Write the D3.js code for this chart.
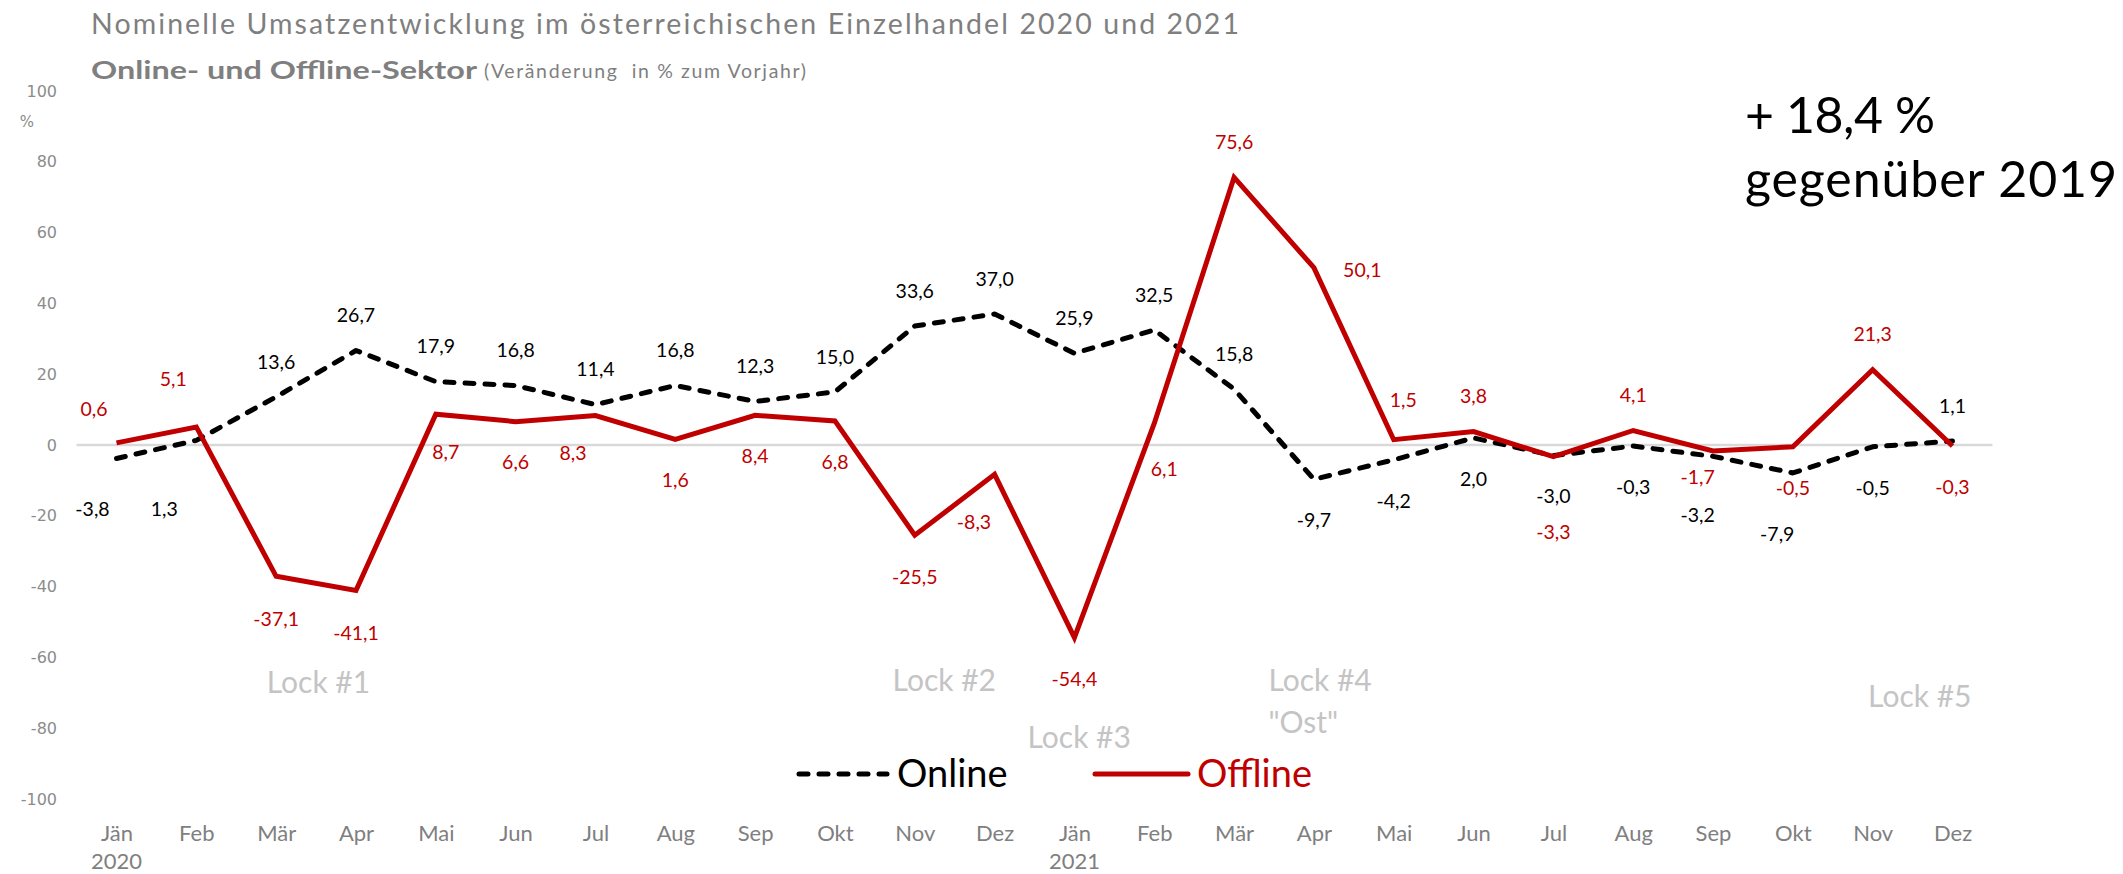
<!DOCTYPE html>
<html><head><meta charset="utf-8">
<script src="https://cdn.jsdelivr.net/npm/d3@7"></script>
<style>body{margin:0;background:#fff}svg{display:block}</style>
</head><body><svg id="chart" width="2123" height="874"></svg>
<script>
// ---------- data ----------
const months = ["Jän","Feb","Mär","Apr","Mai","Jun","Jul","Aug","Sep","Okt","Nov","Dez",
                "Jän","Feb","Mär","Apr","Mai","Jun","Jul","Aug","Sep","Okt","Nov","Dez"];
const yearLabels = [[0, "2020"], [12, "2021"]];
const online  = [-3.8, 1.3, 13.6, 26.7, 17.9, 16.8, 11.4, 16.8, 12.3, 15.0, 33.6, 37.0,
                 25.9, 32.5, 15.8, -9.7, -4.2, 2.0, -3.0, -0.3, -3.2, -7.9, -0.5, 1.1];
const offline = [0.6, 5.1, -37.1, -41.1, 8.7, 6.6, 8.3, 1.6, 8.4, 6.8, -25.5, -8.3,
                 -54.4, 6.1, 75.6, 50.1, 1.5, 3.8, -3.3, 4.1, -1.7, -0.5, 21.3, -0.3];
const yTicks = [100, 80, 60, 40, 20, 0, -20, -40, -60, -80, -100];
const seriesNames = ["Online", "Offline"];

// label placement (layout only): [dx, dy] from the point
const onlineLabelOffsets = [[-24,50.5],[-32,68.6],[0,-35],[0,-35],[0,-35],[0,-35],[0,-35],[0,-35],
  [0,-35],[0,-35],[0,-35],[0,-35],[0,-35],[0,-35],[0,-35],[0,41],[0,41],[0,41],[0,41],[0,41],
  [-15.4,58.7],[-15.6,61],[0,41],[0,-35]];
const offlineLabelOffsets = [[-22.5,-34],[-23,-48],[0,42.5],[0,42.5],[10,37.5],[0,41],[-22.5,37.5],[0,41],
  [0,41],[0,41],[0,41.5],[-20.6,47.3],[0,41.7],[10,46],[0,-35],[48.4,2.4],[9.5,-39.7],[0,-35],
  [0,75],[0,-35],[-15.4,25.7],[0,41],[0,-35],[0,41.5]];

// annotations: text lines, month index, value (baseline), anchor
const lockTexts  = [["Lock #1"], ["Lock #2"], ["Lock #3"], ["Lock #4", "\"Ost\""], ["Lock #5"]];
const lockIndex  = [2.53, 10.37, 12.06, 14.43, 22.59];
const lockValue  = [-70, -69.4, -85.7, -69.4, -73.9];
const lockAnchor = ["middle", "middle", "middle", "start", "middle"];

// ---------- setup ----------
const svg = d3.select("#chart");
const RED = "#c00000", GRAY = "#7f7f7f";
const FONT = "Lato, 'Open Sans', sans-serif";
const de = d3.formatLocale({decimal: ",", thousands: ".", grouping: [3], currency: ["", "€"], minus: "-"});
const fmt = de.format(".1f");

const x = d3.scalePoint().domain(d3.range(months.length)).range([116.5, 1952.5]);
const y = d3.scaleLinear().domain([-100, 100]).range([799, 91]);
const step = x.step();

// titles
svg.append("text").attr("x", 91).attr("y", 34).attr("fill", GRAY)
  .attr("font-family", FONT).attr("font-size", 28.5)
  .attr("textLength", 1148).attr("lengthAdjust", "spacing")
  .text("Nominelle Umsatzentwicklung im österreichischen Einzelhandel 2020 und 2021");
svg.append("text").attr("x", 91).attr("y", 79).attr("fill", GRAY)
  .attr("font-family", FONT).attr("font-size", 25.5).attr("font-weight", "bold")
  .attr("textLength", 386).attr("lengthAdjust", "spacingAndGlyphs")
  .text("Online- und Offline-Sektor");
svg.append("text").attr("x", 484).attr("y", 78).attr("fill", GRAY)
  .attr("font-family", FONT).attr("font-size", 19.5).style("white-space", "pre")
  .attr("textLength", 322).attr("lengthAdjust", "spacing")
  .text("(Veränderung  in % zum Vorjahr)");

// big annotation
const ann = svg.append("g").attr("font-family", FONT).attr("fill", "#000").attr("font-size", 50);
ann.append("text").attr("x", 1745).attr("y", 133).attr("textLength", 190).attr("lengthAdjust", "spacing").text("+ 18,4 %");
ann.append("text").attr("x", 1745).attr("y", 197).attr("textLength", 372).attr("lengthAdjust", "spacing").text("gegenüber 2019");

// y axis labels
const yAxis = svg.append("g").attr("transform", "translate(57,0)")
  .call(d3.axisLeft(y).tickValues(yTicks).tickSize(0).tickPadding(0).tickFormat(d => String(d)));
yAxis.select(".domain").remove();
yAxis.selectAll("text").attr("font-family", "'DejaVu Sans', sans-serif").attr("font-size", 16)
  .attr("fill", "#8c8c8c");
svg.append("text").attr("x", 27).attr("y", 122).attr("dy", "0.35em").attr("text-anchor", "middle")
  .attr("font-family", "'DejaVu Sans', sans-serif").attr("font-size", 15).attr("fill", "#8c8c8c").text("%");

// x axis labels
const xAxis = svg.append("g").attr("transform", "translate(0,825)")
  .call(d3.axisBottom(x).tickSize(0).tickPadding(0).tickFormat(i => months[i]));
xAxis.select(".domain").remove();
xAxis.selectAll("text").attr("font-family", FONT).attr("font-size", 22).attr("fill", GRAY);
svg.append("g").selectAll("text").data(yearLabels).join("text")
  .attr("x", d => x(d[0])).attr("y", 869).attr("text-anchor", "middle")
  .attr("font-family", FONT).attr("font-size", 22).attr("fill", GRAY).text(d => d[1]);

// zero grid line
svg.append("line").attr("x1", x(0) - step / 2).attr("x2", x(months.length - 1) + step / 2)
  .attr("y1", y(0)).attr("y2", y(0)).attr("stroke", "#d9d9d9").attr("stroke-width", 2.7);

// lock annotations
const locks = svg.append("g").attr("font-family", FONT).attr("font-size", 30).attr("fill", "#c4c4c4");
lockTexts.forEach((lines, k) => {
  const t = locks.append("text").attr("text-anchor", lockAnchor[k]);
  const px = x(0) + lockIndex[k] * step;
  lines.forEach((ln, j) => t.append("tspan").attr("x", px).attr("y", y(lockValue[k]) + j * 42.6).text(ln));
});

// lines
const line = d3.line().x((d, i) => x(i)).y(d => y(d));
svg.append("path").datum(online).attr("d", line).attr("fill", "none").attr("stroke", "#000")
  .attr("stroke-width", 5).attr("stroke-dasharray", "9 11").attr("stroke-linecap", "round")
  .attr("stroke-linejoin", "round");
svg.append("path").datum(offline).attr("d", line).attr("fill", "none").attr("stroke", RED)
  .attr("stroke-width", 5).attr("stroke-linejoin", "miter");

// data labels
function labels(vals, offs, color) {
  svg.append("g").attr("font-family", FONT).attr("font-size", 19.5).attr("fill", color)
    .attr("text-anchor", "middle")
    .selectAll("text").data(vals).join("text")
    .attr("x", (d, i) => x(i) + offs[i][0])
    .attr("y", (d, i) => y(d) + offs[i][1])
    .attr("dy", "0.35em")
    .text(d => fmt(d));
}
labels(online, onlineLabelOffsets, "#000");
labels(offline, offlineLabelOffsets, RED);

// legend
const lg = svg.append("g").attr("font-family", FONT).attr("font-size", 38);
lg.append("line").attr("x1", 799).attr("x2", 887).attr("y1", 774).attr("y2", 774)
  .attr("stroke", "#000").attr("stroke-width", 5).attr("stroke-dasharray", "9 11").attr("stroke-linecap", "round");
lg.append("text").attr("x", 897).attr("y", 787).attr("fill", "#000").text(seriesNames[0]);
lg.append("line").attr("x1", 1095).attr("x2", 1188).attr("y1", 774).attr("y2", 774)
  .attr("stroke", RED).attr("stroke-width", 5).attr("stroke-linecap", "round");
lg.append("text").attr("x", 1197).attr("y", 787).attr("fill", RED).text(seriesNames[1]);
</script></body></html>
